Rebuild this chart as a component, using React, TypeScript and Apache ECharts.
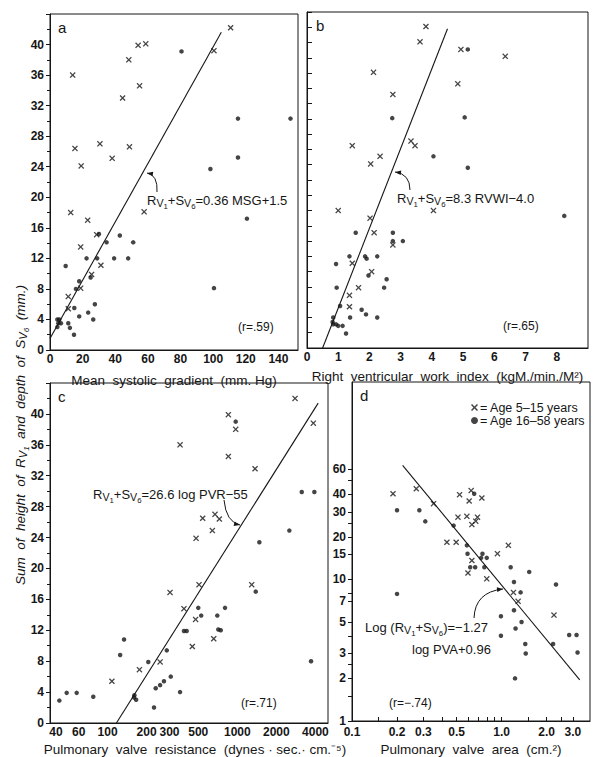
import React, { useEffect, useRef } from "react";
import * as echarts from "echarts";

// ---------- data ----------
// Panel a: mean systolic gradient (mm Hg) vs RV1+SV6 (mm)
const aCross: number[][] = [[110.7,42.2],[54,39.9],[58.7,40.1],[100.5,39.2],[13.9,36],[48.3,38],[54.9,34.6],[44.5,33],[15.3,26.4],[19.1,24.1],[30.6,27],[38.1,25.1],[48.7,26.6],[12.7,18],[23.1,17],[57.7,18.1],[18.8,13.5],[28.6,15.1],[31.2,11.1],[25.5,9.9],[18.8,8.1],[11.2,7],[11.2,5.4]];
const aDot: number[][] = [[80.6,39.1],[115.2,30.3],[147.4,30.3],[98.3,23.7],[115.2,25.2],[120.7,17.2],[100.5,8.1],[9.6,11],[22.4,12],[28.9,12],[30,15.2],[34.7,14.1],[42.8,15],[39.3,12],[47.9,12],[51,14.1],[15.9,8],[17.9,9],[24.9,9.5],[17.9,4.4],[14.9,5.5],[23.4,4.9],[27.5,6],[26.5,4],[11.2,3.5],[12.2,2.9],[14.7,2],[4.5,4],[5.7,4],[5.1,3.5],[6.7,3.5],[4.5,3]];
const aLine: number[][] = [[0,1.5],[105,41.6]];
const aTicksX = [0,20,40,60,80,100,120,140];

// Panel b: right ventricular work index vs RV1+SV6
const bCross: number[][] = [[3.81,42.1],[3.62,40.1],[4.93,39.1],[6.35,38.2],[2.13,36.1],[4.83,34.6],[2.75,33.2],[3.33,27.1],[3.46,26.5],[1.45,26.5],[2.34,25.1],[2.04,24.1],[1.0,18],[4.05,18],[2.02,17],[2.15,15.1],[2.75,13.5],[1.45,11.1],[2.07,10],[1.65,7.9],[1.36,6.9],[1.36,5.4]];
const bDot: number[][] = [[5.15,39.1],[2.73,30.1],[5.05,30.2],[4.05,25.1],[5.15,23.6],[8.24,17.3],[1.56,15.1],[2.75,15.1],[2.75,14],[3.07,14],[1.36,12],[1.86,12],[1.91,11.7],[2.25,12],[0.93,11],[1.97,9.5],[2.55,9],[0.95,7.9],[2.47,7.9],[1.06,5.5],[1.75,5],[1.89,4.4],[1.38,4],[2.25,4],[0.84,4],[0.82,3.4],[0.93,3.1],[0.84,3.1],[1.0,2.9],[1.14,2.9],[1.25,1.9]];
const bLine: number[][] = [[0.5,0],[4.5,41.8]];
const bTicksX = [0,1,2,3,4,5,6,7,8];

// Panel c: pulmonary valve resistance (log) vs RV1+SV6
const cCross: number[][] = [[2786,42],[853,39.9],[972,38],[362,36],[853,34.5],[1370,32.9],[541,26.5],[673,27],[727,26.4],[642,24.9],[481,23.9],[3855,38.8],[1291,17.9],[507,17.9],[303,16.9],[388,14.8],[477,13.4],[658,10.9],[450,9.9],[254,7.9],[176,6.9],[108,5.4]];
const cDot: number[][] = [[972,39],[1479,23.4],[2518,24.9],[3138,29.9],[3925,29.9],[3700,8],[1387,17],[500,14.9],[804,14.9],[527,13.9],[701,13.9],[388,11.9],[407,11.9],[714,12.1],[745,12],[134,10.8],[125,8.8],[206,7.9],[286,9.4],[307,6],[272,5.4],[254,4.9],[235,4.5],[362,4],[228,2],[161,3.6],[166,3],[160,3.3],[77.6,3.4],[57.8,3.9],[48.4,3.9],[42.5,2.9]];
const cLine: number[][] = [[117,0],[4200,41.4]];
const cTicksX = [40,60,100,200,300,500,1000,2000,4000];

// Panel d: pulmonary valve area (log) vs RV1+SV6 (log)
const dCross: number[][] = [[0.188,40.3],[0.269,43.7],[0.351,34.3],[0.524,39.7],[0.626,42.4],[0.607,35.8],[0.738,37.6],[0.511,27.5],[0.586,27.9],[0.69,27.5],[0.672,25.8],[0.633,24.4],[0.431,18.3],[0.497,18.3],[1.11,17.4],[0.938,15.2],[0.633,13.6],[0.596,11.1],[0.796,10.1],[1.2,8.1],[1.29,7.0],[2.24,5.6]];
const dDot: number[][] = [[0.2,30.8],[0.282,30.8],[0.309,25.7],[0.478,24],[0.586,17.4],[0.656,40.3],[0.592,15.2],[0.745,15.2],[0.73,14.2],[0.796,14.2],[0.617,12.2],[0.666,12.2],[0.767,12.2],[1.15,12.2],[1.53,11.3],[0.2,7.9],[1.21,9.6],[1.34,8.1],[2.31,9.2],[0.99,5.5],[1.21,6.05],[1.36,5.0],[1.24,4.5],[0.99,4.0],[1.44,3.5],[1.45,3.0],[2.21,3.5],[2.83,4.05],[3.17,4.05],[3.22,3.05],[1.23,2.0]];
const dLine: number[][] = [[0.218,64],[3.33,1.95]];
const dTicksX = ["0.1","0.2","0.3","0.5","1.0","2.0","3.0"];
const dMinorX = [0.1,0.15,0.2,0.3,0.4,0.5,0.6,0.7,0.8,0.9,1,1.5,2,2.5,3];
const dTicksY = ["1","2","3","5","7","10","15","20","30","40","60"];
const dMinorY = [1,1.5,2,2.5,3,4,5,7,8,10,15,20,25,30,40,50,60];

const yTicks = [0,4,8,12,16,20,24,28,32,36,40];
const NAME_X = "Age 5\u201315 years";
const NAME_O = "Age 16\u201358 years";

// ---------- styling ----------
const FONT = "'Liberation Sans', Arial, sans-serif";
const INK = "#161616";
const crossPath = "path://M0,1.5L1.5,0L5,3.5L8.5,0L10,1.5L6.5,5L10,8.5L8.5,10L5,6.5L1.5,10L0,8.5L3.5,5Z";
const lg = (v: number) => Math.log10(v);

function rich(size: number, italic = false) {
  const fs = italic ? "italic" : "normal";
  return {
    b: { fontSize: size, fontFamily: FONT, color: INK, fontStyle: fs },
    v: { fontSize: size * 0.82, fontFamily: FONT, color: INK, fontStyle: fs, padding: [size * 0.5, 0, 0, 0] },
    n: { fontSize: size * 0.6, fontFamily: FONT, color: INK, fontStyle: fs, padding: [size * 0.95, 0, 0, 0] },
  };
}

function txt(x: number, y: number, text: string, size: number, opts: any = {}) {
  return {
    type: "text",
    x,
    y,
    rotation: opts.rotation || 0,
    style: {
      text,
      rich: rich(size, !!opts.italic),
      fontSize: size,
      fontFamily: FONT,
      fontStyle: opts.italic ? "italic" : "normal",
      fill: INK,
      align: opts.align || "left",
      textAlign: opts.align || "left",
      verticalAlign: "middle",
      textVerticalAlign: "middle",
    },
  };
}

function arrow(x0: number, y0: number, cx: number, cy: number, x1: number, y1: number) {
  const dx = x1 - cx, dy = y1 - cy;
  const L = Math.hypot(dx, dy);
  const ux = dx / L, uy = dy / L;
  const s = 6, w = 2.3;
  const bx = x1 - ux * s, by = y1 - uy * s;
  return [
    { type: "bezierCurve", shape: { x1: x0, y1: y0, x2: x1, y2: y1, cpx1: cx, cpy1: cy }, style: { stroke: INK, lineWidth: 1, fill: null } },
    { type: "polygon", shape: { points: [[x1, y1], [bx - uy * w, by + ux * w], [bx + uy * w, by - ux * w]] }, style: { fill: INK } },
  ];
}

const tickLabel = { fontSize: 12, fontWeight: "bold", fontFamily: FONT, color: INK };
const axisLine = { show: true, onZero: false, lineStyle: { color: INK, width: 1 } };

function linAxisY(gridIndex: number, labels: boolean, inside: boolean) {
  return {
    type: "value", gridIndex, min: 0, max: 44, interval: labels ? 4 : 2,
    axisLine, splitLine: { show: false },
    axisTick: { show: true, inside, length: inside ? 5 : 4, lineStyle: { color: INK } },
    minorTick: { show: labels, splitNumber: 2, length: 3, lineStyle: { color: INK } },
    axisLabel: { show: labels, ...tickLabel, margin: 6, customValues: yTicks },
  };
}

function scatterPair(xi: number, cross: number[][], dot: number[][], line: number[][], tx = (v: number) => v, ty = (v: number) => v) {
  const m = (arr: number[][]) => arr.map((p) => [tx(p[0]), ty(p[1])]);
  return [
    { type: "scatter", name: NAME_X, xAxisIndex: xi, yAxisIndex: xi, data: m(cross), symbol: crossPath, symbolSize: 6, itemStyle: { color: INK } },
    { type: "scatter", name: NAME_O, xAxisIndex: xi, yAxisIndex: xi, data: m(dot), symbol: "circle", symbolSize: 4.5, itemStyle: { color: INK } },
    { type: "line", xAxisIndex: xi, yAxisIndex: xi, data: m(line), showSymbol: false, symbol: "none", lineStyle: { color: INK, width: 1.1 }, silent: true },
  ];
}

const nameStyle = { fontSize: 13.5, fontFamily: FONT, color: INK };

export default function App() {
  const ref = useRef<HTMLDivElement>(null);
  useEffect(() => {
    document.body.style.margin = "0";
    const chart = echarts.init(ref.current!, null, { renderer: "svg" });
    const option: any = {
      animation: false,
      backgroundColor: "#ffffff",
      grid: [
        { left: 50, top: 14, width: 248, height: 336, show: true, borderColor: INK, borderWidth: 1 },
        { left: 307, top: 12, width: 281, height: 336, show: true, borderColor: INK, borderWidth: 1 },
        { left: 50, top: 383, width: 278, height: 342, show: true, borderColor: INK, borderWidth: 1 },
        { left: 352, top: 382, width: 238, height: 340, show: true, borderColor: INK, borderWidth: 1 },
      ],
      xAxis: [
        {
          type: "value", gridIndex: 0, min: 0, max: 152, axisLine, splitLine: { show: false },
          axisTick: { show: false }, axisLabel: { ...tickLabel, margin: 3, customValues: aTicksX },
          name: "Mean  systolic  gradient  (mm. Hg)", nameLocation: "middle", nameGap: 23, nameTextStyle: nameStyle,
        },
        {
          type: "value", gridIndex: 1, min: 0, max: 9, axisLine, splitLine: { show: false },
          axisTick: { show: false }, axisLabel: { ...tickLabel, margin: 3, customValues: bTicksX },
          name: "Right  ventricular  work  index  (kgM./min./M\u00b2)", nameLocation: "middle", nameGap: 21, nameTextStyle: nameStyle,
        },
        {
          type: "value", gridIndex: 2, min: lg(36), max: lg(5000), axisLine, splitLine: { show: false },
          axisTick: { show: false },
          axisLabel: { ...tickLabel, margin: 3, customValues: cTicksX.map(lg), formatter: (v: number) => String(Math.round(Math.pow(10, v))) },
          name: "Pulmonary  valve  resistance  (dynes \u00b7 sec.\u00b7 cm.\u207b\u2075)", nameLocation: "middle", nameGap: 19, nameTextStyle: { ...nameStyle, padding: [0, 0, 0, 12] },
        },
        {
          type: "value", gridIndex: 3, min: -1, max: lg(3.9), axisLine, splitLine: { show: false },
          axisTick: { show: true, inside: true, length: 4, lineStyle: { color: INK }, customValues: dMinorX.map(lg) },
          axisLabel: {
            ...tickLabel, margin: 5, customValues: dTicksX.map((s) => lg(parseFloat(s))),
            formatter: (v: number) => dTicksX.reduce((best, s) => Math.abs(lg(parseFloat(s)) - v) < Math.abs(lg(parseFloat(best)) - v) ? s : best, dTicksX[0]),
          },
          name: "Pulmonary  valve  area  (cm.\u00b2)", nameLocation: "middle", nameGap: 21, nameTextStyle: nameStyle,
        },
      ],
      yAxis: [
        linAxisY(0, true, false),
        linAxisY(1, false, true),
        linAxisY(2, true, false),
        {
          type: "value", gridIndex: 3, min: 0, max: lg(248), axisLine, splitLine: { show: false },
          axisTick: { show: true, inside: false, length: 4, lineStyle: { color: INK }, customValues: dMinorY.map(lg) },
          axisLabel: {
            ...tickLabel, margin: 6, customValues: dTicksY.map((s) => lg(parseFloat(s))),
            formatter: (v: number) => String(Math.round(Math.pow(10, v))),
          },
        },
      ],
      legend: {
        left: 466, top: 396, orient: "vertical", itemGap: 0, itemWidth: 7, itemHeight: 7, selectedMode: false,
        data: [NAME_X, NAME_O],
        formatter: (n: string) => "= " + n,
        textStyle: { fontSize: 12.5, lineHeight: 13, fontFamily: FONT, color: INK, padding: [0, 0, 0, -3] },
      },
      series: [
        ...scatterPair(0, aCross, aDot, aLine),
        ...scatterPair(1, bCross, bDot, bLine),
        ...scatterPair(2, cCross, cDot, cLine, lg),
        ...scatterPair(3, dCross, dDot, dLine, lg, lg),
      ],
      graphic: [
        txt(58, 27, "{b|a}", 15),
        txt(316, 25, "{b|b}", 15),
        txt(58, 396, "{b|c}", 15),
        txt(360, 395, "{b|d}", 15),
        txt(147, 200, "{b|R}{v|V}{n|1}{b|+S}{v|V}{n|6}{b|=0.36 MSG+1.5}", 13),
        txt(397, 198, "{b|R}{v|V}{n|1}{b|+S}{v|V}{n|6}{b|=8.3 RVWI\u22124.0}", 13),
        txt(93, 494, "{b|R}{v|V}{n|1}{b|+S}{v|V}{n|6}{b|=26.6 log PVR\u221255}", 13),
        txt(365, 627, "{b|Log (R}{v|V}{n|1}{b|+S}{v|V}{n|6}{b|)=\u22121.27}", 13),
        txt(412, 649, "{b|log PVA+0.96}", 13),
        txt(238, 327, "{b|(r=.59)}", 12),
        txt(503, 326, "{b|(r=.65)}", 12),
        txt(241, 703, "{b|(r=.71)}", 12),
        txt(389, 703, "{b|(r=\u2212.74)}", 12),
        txt(20, 585, "{b|Sum  of  height  of  R}{v|V}{n|1}{b|  and  depth  of  S}{v|V}{n|6}{b|  (mm.)}", 13.5, { italic: true, rotation: Math.PI / 2, align: "left" }),
        ...arrow(157, 192, 158, 175, 147, 173),
        ...arrow(410, 190, 410, 174, 395, 172),
        ...arrow(224, 500, 226, 522, 240, 525),
        ...arrow(474, 618, 475, 592, 503, 589),
      ],
    };
    chart.setOption(option);
    return () => chart.dispose();
  }, []);
  return <div ref={ref} style={{ width: 604, height: 757 }} />;
}
